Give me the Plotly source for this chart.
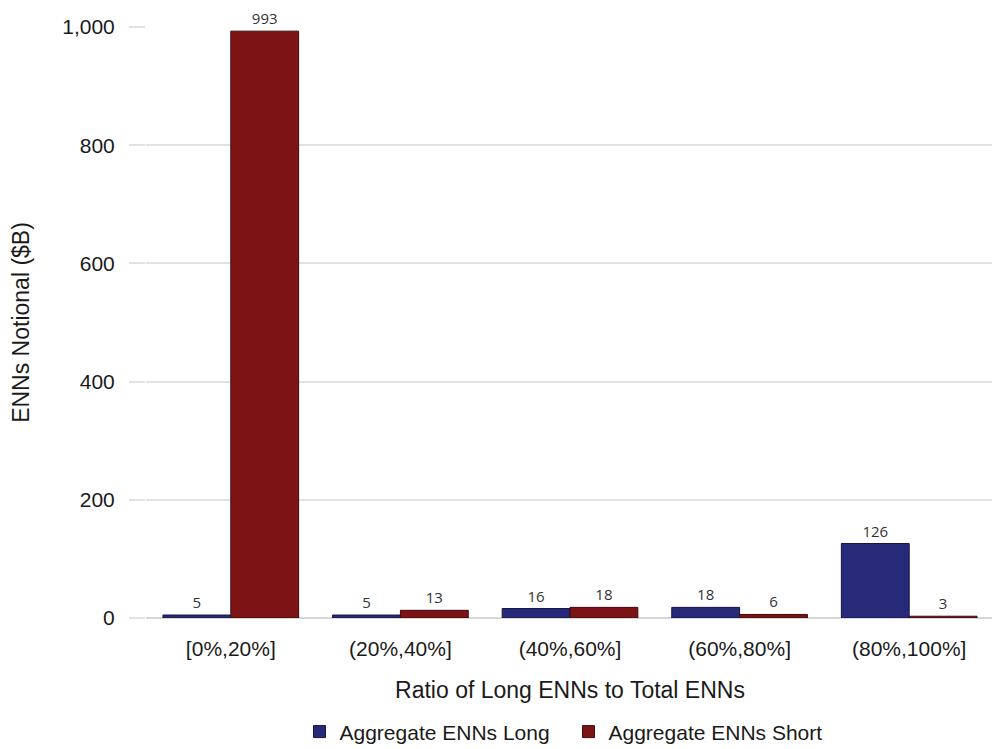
import plotly.graph_objects as go

categories = ["[0%,20%]", "(20%,40%]", "(40%,60%]", "(60%,80%]", "(80%,100%]"]
long_vals = [5, 5, 16, 18, 126]
short_vals = [993, 13, 18, 6, 3]
y_ticks = [0, 200, 400, 600, 800, 1000]

value_font = dict(family="Open Sans, DejaVu Sans", size=15, color="#333333")

fig = go.Figure()
fig.add_trace(go.Bar(
    x=categories, y=long_vals, name="Aggregate ENNs Long",
    marker=dict(color="#272a78", line=dict(color="#15173f", width=1)),
    text=[str(v) for v in long_vals], textposition="outside",
    textfont=value_font, cliponaxis=False,
))
fig.add_trace(go.Bar(
    x=categories, y=short_vals, name="Aggregate ENNs Short",
    marker=dict(color="#7c1315", line=dict(color="#400a0b", width=1)),
    text=[str(v) for v in short_vals], textposition="outside",
    textfont=value_font, cliponaxis=False,
))

# page body has an 8px margin, so the figure is sized/offset to compensate
fig.update_layout(
    width=992, height=741,
    barmode="group", bargap=0.2, bargroupgap=0,
    plot_bgcolor="white", paper_bgcolor="white",
    margin=dict(l=138, r=6, t=19, b=131),
    font=dict(family="Liberation Sans, Arial", size=21, color="#1a1a1a"),
    xaxis=dict(
        automargin=False,
        title=dict(text="Ratio of Long ENNs to Total ENNs", font=dict(size=23), standoff=22),
        tickfont=dict(size=21), showgrid=False, showline=False, ticks="",
        ticklabelstandoff=16,
    ),
    yaxis=dict(
        automargin=False,
        title=dict(text="ENNs Notional ($B)", font=dict(size=23), standoff=28),
        range=[0, 1000], tickvals=y_ticks,
        tickformat=",", tickfont=dict(size=21),
        showgrid=True, gridcolor="#e2e2e2", gridwidth=2,
        zeroline=True, zerolinecolor="#d6d6d6", zerolinewidth=2,
        ticks="outside", ticklen=16, tickcolor="#e2e2e2", tickwidth=2,
        ticklabelstandoff=10,
    ),
    legend=dict(orientation="h", xref="paper", x=0.181, xanchor="left",
                yref="container", y=0.023, yanchor="middle",
                entrywidth=224, entrywidthmode="pixels",
                font=dict(size=21), traceorder="normal"),
)

fig.write_html("out.html")
